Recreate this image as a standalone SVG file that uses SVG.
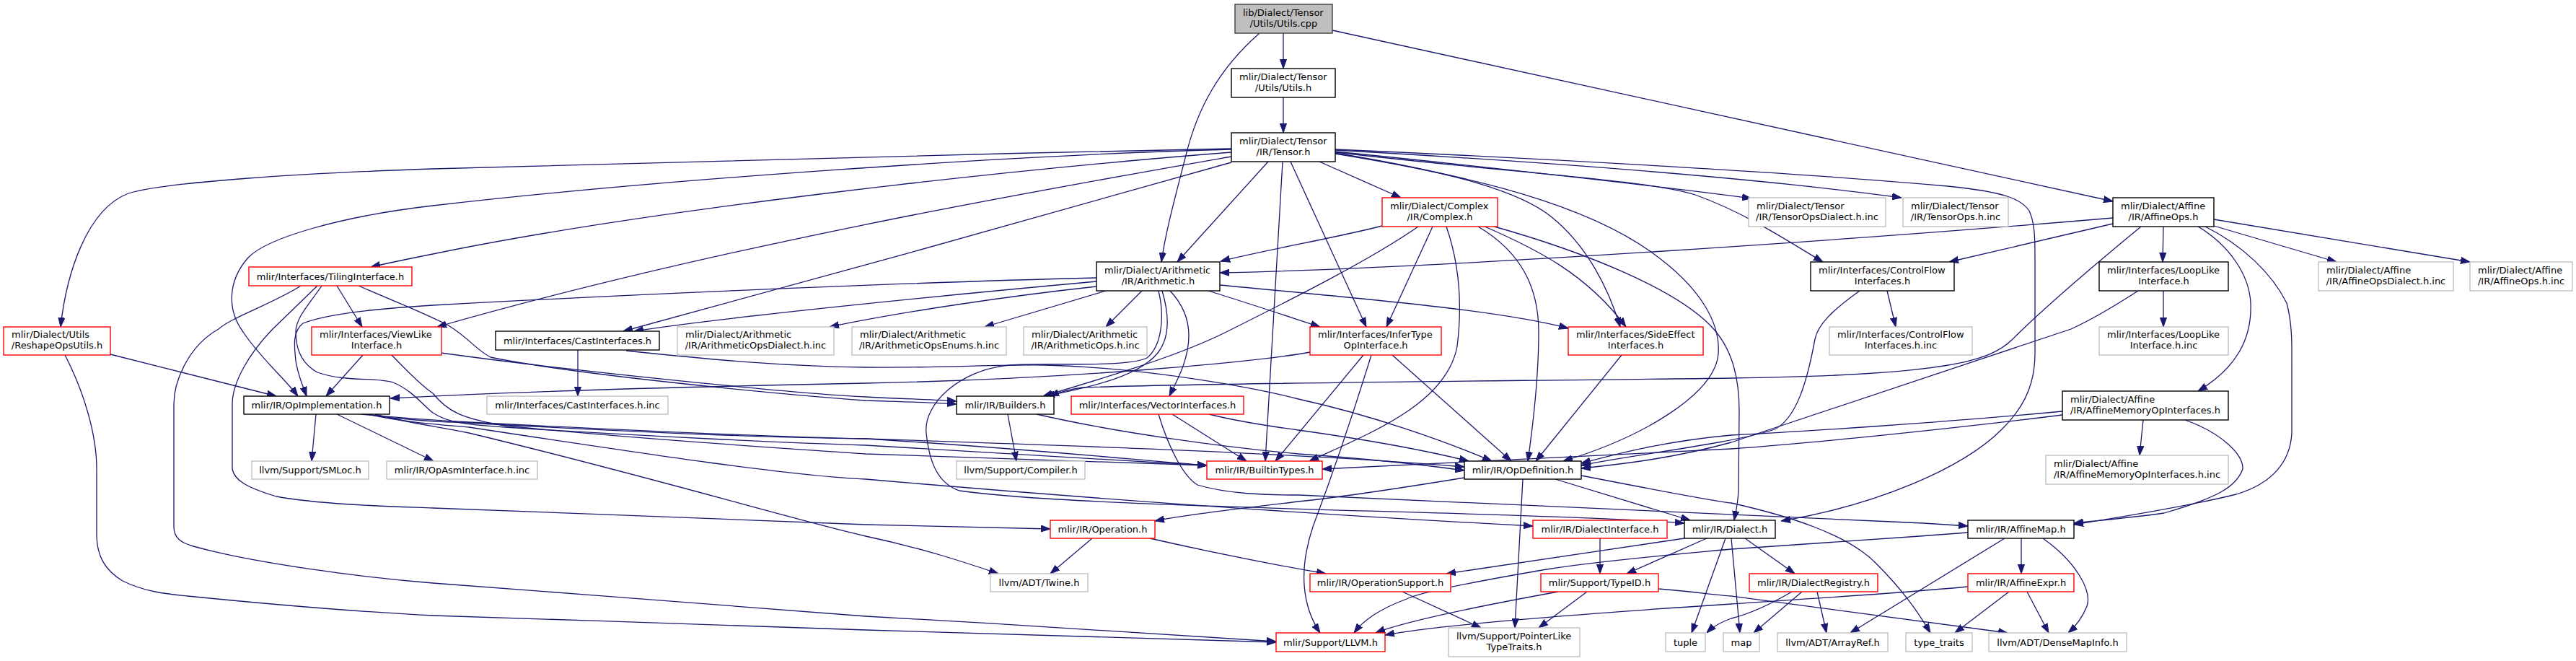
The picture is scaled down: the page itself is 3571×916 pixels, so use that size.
<svg xmlns="http://www.w3.org/2000/svg" width="3571" height="916" viewBox="0 0 3571 916">
<style>
text{font-family:"DejaVu Sans","Liberation Sans",sans-serif;font-size:13px;fill:#000}
.c{text-anchor:middle}
rect{fill:#fff;stroke-width:1.4}
.k{stroke:#000}
.r{stroke:#ff0000}
.g{stroke:#bfbfbf}
.root{fill:#bfbfbf;stroke:#404040}
#edges path{fill:none;stroke:#191970;stroke-width:1.3;marker-end:url(#a)}
</style>
<defs>
<marker id="a" viewBox="0 0 13 10" refX="13" refY="5" markerWidth="13" markerHeight="10" markerUnits="userSpaceOnUse" orient="auto"><path d="M0,0.4 L13,5 L0,9.6 z" fill="#191970" stroke="#191970" stroke-width="1"/></marker>
</defs>
<rect x="0" y="0" width="3571" height="916" style="fill:#fff;stroke:none"/>
<g id="edges">
<path d="M1779,46 L1779,95"/>
<path d="M1746,46 C1690,95 1660,150 1644,215 C1630,270 1616,320 1610,363"/>
<path d="M1847,42 L2929,279"/>
<path d="M1779,135 L1779,184"/>
<path d="M1707,206 C1300,214 800,228 600,234 C420,240 230,252 178,268 C120,290 92,380 84,453"/>
<path d="M1707,207 C1400,215 900,250 600,285 C470,300 370,330 344,357 C315,390 315,430 337,460 C360,495 395,525 413,549"/>
<path d="M1707,211 C1400,235 900,290 600,352 C565,359 540,364 514,370"/>
<path d="M1707,217 C1450,262 1000,340 606,453"/>
<path d="M1707,225 C1500,285 1100,395 864,459"/>
<path d="M1758,224 L1632,363"/>
<path d="M1778,224 L1754,639"/>
<path d="M1789,224 L1894,453"/>
<path d="M1829,224 L1942,274"/>
<path d="M1851,207 C2150,220 2500,240 2700,258 C2780,266 2802,276 2813,292 C2821,310 2821,330 2821,360 L2821,490 C2821,540 2800,570 2775,595 C2720,650 2600,700 2469,722"/>
<path d="M1851,208 C2100,222 2400,242 2636,274"/>
<path d="M1851,210 C2050,230 2300,258 2428,275"/>
<path d="M1851,211 C2100,240 2290,250 2350,270 C2420,295 2480,335 2527,363"/>
<path d="M1851,212 C1990,235 2100,260 2150,300 C2200,340 2230,400 2246,453"/>
<path d="M1851,213 C2050,245 2200,285 2290,350 C2360,400 2385,450 2382,490 C2378,545 2280,605 2167,639"/>
<path d="M1916,313 C1850,330 1760,345 1692,362"/>
<path d="M1966,314 C1900,360 1790,415 1700,460 C1640,490 1560,515 1446,549"/>
<path d="M1986,314 L1922,453"/>
<path d="M2005,314 C2028,380 2025,440 2020,480 C2005,560 1900,600 1815,639"/>
<path d="M2049,314 C2110,350 2133,400 2133,460 C2133,520 2125,590 2118,639"/>
<path d="M2056,313 C2130,345 2200,380 2254,453"/>
<path d="M2068,313 C2200,350 2320,400 2370,450 C2400,480 2411,520 2411,570 L2410,680 C2409,700 2406,710 2404,721"/>
<path d="M1520,385 C1200,393 800,412 600,423 C480,430 440,440 420,448 C405,460 408,480 410,500 C413,520 420,535 425,549"/>
<path d="M1520,390 C1300,410 1000,440 879,459"/>
<path d="M1520,397 C1400,410 1250,432 1150,453"/>
<path d="M1533,403 L1365,453"/>
<path d="M1583,403 L1533,453"/>
<path d="M1611,403 C1622,440 1620,470 1605,489 C1580,520 1520,535 1449,549"/>
<path d="M1622,403 C1638,420 1648,440 1648,465 C1648,500 1630,530 1621,549"/>
<path d="M1675,403 C1730,420 1790,440 1830,453"/>
<path d="M1691,395 C1900,415 2080,430 2174,455"/>
<path d="M1606,403 C1615,440 1610,480 1590,496 C1560,510 1450,502 1400,506 C1330,512 1280,560 1284,600 C1288,640 1300,670 1330,680 C1500,705 2100,708 2335,725"/>
<path d="M1816,488 C1750,500 1500,525 1200,531 C900,537 700,543 541,552"/>
<path d="M1890,492 L1768,639"/>
<path d="M1901,492 C1880,560 1850,650 1820,730 C1800,790 1805,840 1830,877"/>
<path d="M1930,492 L2095,639"/>
<path d="M2248,492 L2129,639"/>
<path d="M2616,403 L2628,453"/>
<path d="M2578,403 C2540,430 2520,450 2516,470 C2505,530 2490,580 2460,595 C2400,615 2250,632 2192,645"/>
<path d="M2999,403 L2999,453"/>
<path d="M2964,403 C2930,425 2895,445 2871,456 L2400,613 C2320,635 2250,643 2192,649"/>
<path d="M2929,302 C2600,330 2000,372 1691,378"/>
<path d="M2929,310 L2702,363"/>
<path d="M2999,314 L2998,363"/>
<path d="M2968,314 C2900,370 2830,430 2790,470 C2760,500 2700,520 2400,524 C2100,528 1700,530 1500,537 C1480,540 1465,545 1455,549"/>
<path d="M3047,314 C3090,340 3118,380 3120,420 C3122,470 3100,510 3047,542"/>
<path d="M3055,313 C3110,340 3150,380 3170,420 C3178,450 3177,480 3177,500 L3177,600 C3175,640 3150,670 3100,685 C3040,700 2950,715 2875,727"/>
<path d="M3069,313 L3239,363"/>
<path d="M3069,304 L3424,363"/>
<path d="M417,396 C380,420 320,440 303,456 C260,480 241,530 241,560 L241,730 C241,745 250,752 268,757 C350,780 500,800 600,808 C800,822 1100,848 1200,854 C1400,865 1650,880 1769,889"/>
<path d="M440,396 L378,456 C345,490 322,530 322,560 L322,650 C325,665 340,675 383,688 C450,700 550,702 600,704 C800,712 1100,722 1200,727 C1300,730 1400,731 1456,733"/>
<path d="M446,396 C430,420 410,440 410,460 C410,485 420,505 440,516 C480,530 520,522 545,530 C570,540 585,560 600,572 C620,585 640,588 700,592 C900,605 1100,614 1200,617 C1400,628 1550,638 1673,645"/>
<path d="M467,396 L502,453"/>
<path d="M497,396 C540,415 580,430 620,450 C650,468 660,485 680,495 C800,520 1100,548 1200,555 C1260,557 1300,558 1326,560"/>
<path d="M153,491 L383,549"/>
<path d="M90,492 C115,540 134,600 134,650 L134,740 C134,770 145,790 170,805 C200,820 230,823 260,826 C400,840 500,848 600,853 C800,860 1100,868 1200,873 C1450,880 1650,886 1769,890"/>
<path d="M503,492 L452,549"/>
<path d="M543,492 C565,515 585,535 600,545 C620,570 640,580 700,590 C900,610 1100,622 1200,629 C1400,636 1550,642 1673,645"/>
<path d="M611,489 C800,515 1100,545 1200,550 C1260,553 1300,554 1326,556"/>
<path d="M801,485 L801,549"/>
<path d="M868,486 C1000,500 1100,508 1200,509 C1300,510 1380,505 1450,506 C1600,510 1750,540 1800,553 C1900,575 2000,610 2068,639"/>
<path d="M438,574 L432,639"/>
<path d="M467,574 L601,639"/>
<path d="M501,574 C560,580 600,582 650,585 C900,598 1100,606 1200,608 C1400,620 1550,635 1673,645"/>
<path d="M505,574 C560,582 600,584 650,586 C900,600 1100,607 1200,608 C1500,618 1800,628 2030,647"/>
<path d="M510,574 C560,585 600,588 650,592 C900,630 1100,660 1200,664 C1500,690 1800,712 2125,729"/>
<path d="M520,574 C560,585 600,590 650,600 C900,660 1100,720 1200,743 C1280,760 1340,780 1384,795"/>
<path d="M1397,574 L1409,639"/>
<path d="M1437,574 C1550,600 1700,620 1800,629 C1900,636 1980,645 2030,652"/>
<path d="M1625,574 L1728,639"/>
<path d="M1676,574 C1720,585 1770,592 1800,596 C1900,610 1980,625 2036,639"/>
<path d="M1606,574 C1620,620 1640,660 1660,672 C1700,684 1750,686 1800,686 C2100,700 2400,715 2600,722 C2650,724 2700,727 2728,729"/>
<path d="M2156,664 L2343,721"/>
<path d="M2111,664 L2100,870"/>
<path d="M2030,662 C1950,675 1850,690 1800,695 C1720,705 1650,712 1601,722"/>
<path d="M2192,659 C2300,680 2380,695 2400,697 C2480,715 2560,740 2600,780 C2640,820 2660,850 2676,877"/>
<path d="M1514,746 L1456,795"/>
<path d="M1594,746 C1700,770 1780,785 1838,795"/>
<path d="M2218,746 L2218,795"/>
<path d="M2335,746 L2005,795"/>
<path d="M2366,746 L2255,795"/>
<path d="M2392,746 L2345,877"/>
<path d="M2400,746 L2412,877"/>
<path d="M2419,746 L2488,795"/>
<path d="M2728,738 C2600,748 2450,757 2400,761 C2300,770 2200,780 2144,789 C2050,805 1970,820 1950,830 C1910,845 1890,860 1877,877"/>
<path d="M2779,746 L2565,877"/>
<path d="M2802,746 L2802,795"/>
<path d="M2832,746 C2880,780 2900,820 2893,840 C2885,860 2875,870 2867,877"/>
<path d="M2728,813 C2600,825 2450,833 2400,837 C2200,850 2000,865 1920,880"/>
<path d="M2785,820 L2710,877"/>
<path d="M2810,820 L2840,877"/>
<path d="M2160,820 C2050,840 1950,860 1907,877"/>
<path d="M2200,820 L2133,870"/>
<path d="M2299,816 C2350,820 2380,825 2400,826 C2550,845 2700,865 2783,877"/>
<path d="M2484,820 C2450,840 2420,852 2400,857 C2385,862 2375,868 2366,877"/>
<path d="M2498,820 L2431,877"/>
<path d="M2519,820 L2532,877"/>
<path d="M1944,820 L2053,870"/>
<path d="M2971,582 L2966,631"/>
<path d="M2859,570 C2700,585 2500,598 2400,603 C2300,612 2230,632 2192,642"/>
<path d="M2859,575 C2700,595 2500,615 2400,622 C2200,632 2000,642 1833,650"/>
<path d="M3029,582 C3080,600 3110,630 3109,650 C3100,675 3073,690 3000,711 C2950,718 2900,722 2875,725"/>
</g>
<g id="n_root"><rect class="root" x="1712" y="6" width="135" height="40"/><text x="1723" y="21.5">lib/Dialect/Tensor</text><text class="c" x="1779.5" y="36.5">/Utils/Utils.cpp</text></g>
<g id="n_utilsh"><rect class="k" x="1707" y="95" width="144" height="40"/><text x="1718" y="110.5">mlir/Dialect/Tensor</text><text class="c" x="1779" y="125.5">/Utils/Utils.h</text></g>
<g id="n_tensorh"><rect class="k" x="1707" y="184" width="144" height="40"/><text x="1718" y="199.5">mlir/Dialect/Tensor</text><text class="c" x="1779" y="214.5">/IR/Tensor.h</text></g>
<g id="n_arith"><rect class="k" x="1520" y="363" width="171" height="40"/><text x="1531" y="378.5">mlir/Dialect/Arithmetic</text><text class="c" x="1605.5" y="393.5">/IR/Arithmetic.h</text></g>
<g id="n_complex"><rect class="r" x="1916" y="274" width="160" height="40"/><text x="1927" y="289.5">mlir/Dialect/Complex</text><text class="c" x="1996" y="304.5">/IR/Complex.h</text></g>
<g id="n_tensoropsdialect"><rect class="g" x="2424" y="274" width="190" height="40"/><text x="2435" y="289.5">mlir/Dialect/Tensor</text><text class="c" x="2519" y="304.5">/IR/TensorOpsDialect.h.inc</text></g>
<g id="n_tensorops"><rect class="g" x="2638" y="274" width="146" height="40"/><text x="2649" y="289.5">mlir/Dialect/Tensor</text><text class="c" x="2711" y="304.5">/IR/TensorOps.h.inc</text></g>
<g id="n_affineops"><rect class="k" x="2929" y="274" width="140" height="40"/><text x="2940" y="289.5">mlir/Dialect/Affine</text><text class="c" x="2999" y="304.5">/IR/AffineOps.h</text></g>
<g id="n_controlflow"><rect class="k" x="2510" y="363" width="199" height="40"/><text x="2521" y="378.5">mlir/Interfaces/ControlFlow</text><text class="c" x="2609.5" y="393.5">Interfaces.h</text></g>
<g id="n_looplike"><rect class="k" x="2910" y="363" width="179" height="40"/><text x="2921" y="378.5">mlir/Interfaces/LoopLike</text><text class="c" x="2999.5" y="393.5">Interface.h</text></g>
<g id="n_affineopsdialectinc"><rect class="g" x="3214" y="363" width="187" height="40"/><text x="3225" y="378.5">mlir/Dialect/Affine</text><text class="c" x="3307.5" y="393.5">/IR/AffineOpsDialect.h.inc</text></g>
<g id="n_affineopsinc"><rect class="g" x="3424" y="363" width="142" height="40"/><text x="3435" y="378.5">mlir/Dialect/Affine</text><text class="c" x="3495" y="393.5">/IR/AffineOps.h.inc</text></g>
<g id="n_tiling"><rect class="r" x="345" y="370" width="226" height="26"/><text class="c" x="458" y="387.5">mlir/Interfaces/TilingInterface.h</text></g>
<g id="n_reshape"><rect class="r" x="5" y="453" width="148" height="39"/><text x="16" y="468">mlir/Dialect/Utils</text><text class="c" x="79" y="483">/ReshapeOpsUtils.h</text></g>
<g id="n_viewlike"><rect class="r" x="432" y="453" width="180" height="39"/><text x="443" y="468">mlir/Interfaces/ViewLike</text><text class="c" x="522" y="483">Interface.h</text></g>
<g id="n_cast"><rect class="k" x="687" y="459" width="227" height="26"/><text class="c" x="800.5" y="476.5">mlir/Interfaces/CastInterfaces.h</text></g>
<g id="n_arithdialectinc"><rect class="g" x="939" y="453" width="217" height="39"/><text x="950" y="468">mlir/Dialect/Arithmetic</text><text class="c" x="1047.5" y="483">/IR/ArithmeticOpsDialect.h.inc</text></g>
<g id="n_arithenumsinc"><rect class="g" x="1181" y="453" width="214" height="39"/><text x="1192" y="468">mlir/Dialect/Arithmetic</text><text class="c" x="1288" y="483">/IR/ArithmeticOpsEnums.h.inc</text></g>
<g id="n_arithopsinc"><rect class="g" x="1419" y="453" width="171" height="39"/><text x="1430" y="468">mlir/Dialect/Arithmetic</text><text class="c" x="1504.5" y="483">/IR/ArithmeticOps.h.inc</text></g>
<g id="n_infertype"><rect class="r" x="1816" y="453" width="182" height="39"/><text x="1827" y="468">mlir/Interfaces/InferType</text><text class="c" x="1907" y="483">OpInterface.h</text></g>
<g id="n_sideeffect"><rect class="r" x="2174" y="453" width="187" height="39"/><text x="2185" y="468">mlir/Interfaces/SideEffect</text><text class="c" x="2267.5" y="483">Interfaces.h</text></g>
<g id="n_cfinc"><rect class="g" x="2536" y="453" width="198" height="39"/><text x="2547" y="468">mlir/Interfaces/ControlFlow</text><text class="c" x="2635" y="483">Interfaces.h.inc</text></g>
<g id="n_looplikeinc"><rect class="g" x="2910" y="453" width="179" height="39"/><text x="2921" y="468">mlir/Interfaces/LoopLike</text><text class="c" x="2999.5" y="483">Interface.h.inc</text></g>
<g id="n_opimpl"><rect class="k" x="338" y="549" width="202" height="25"/><text class="c" x="439" y="566">mlir/IR/OpImplementation.h</text></g>
<g id="n_castinc"><rect class="g" x="675" y="549" width="251" height="25"/><text class="c" x="800.5" y="566">mlir/Interfaces/CastInterfaces.h.inc</text></g>
<g id="n_builders"><rect class="k" x="1326" y="549" width="135" height="25"/><text class="c" x="1393.5" y="566">mlir/IR/Builders.h</text></g>
<g id="n_vector"><rect class="r" x="1485" y="549" width="239" height="25"/><text class="c" x="1604.5" y="566">mlir/Interfaces/VectorInterfaces.h</text></g>
<g id="n_affinememop"><rect class="k" x="2859" y="542" width="230" height="40"/><text x="2870" y="557.5">mlir/Dialect/Affine</text><text class="c" x="2974" y="572.5">/IR/AffineMemoryOpInterfaces.h</text></g>
<g id="n_smloc"><rect class="g" x="349" y="639" width="162" height="25"/><text class="c" x="430" y="656">llvm/Support/SMLoc.h</text></g>
<g id="n_opasminc"><rect class="g" x="536" y="639" width="209" height="25"/><text class="c" x="640.5" y="656">mlir/IR/OpAsmInterface.h.inc</text></g>
<g id="n_compiler"><rect class="g" x="1326" y="639" width="178" height="25"/><text class="c" x="1415" y="656">llvm/Support/Compiler.h</text></g>
<g id="n_builtintypes"><rect class="r" x="1673" y="639" width="160" height="25"/><text class="c" x="1753" y="656">mlir/IR/BuiltinTypes.h</text></g>
<g id="n_opdef"><rect class="k" x="2030" y="639" width="162" height="25"/><text class="c" x="2111" y="656">mlir/IR/OpDefinition.h</text></g>
<g id="n_affinememopinc"><rect class="g" x="2836" y="631" width="253" height="40"/><text x="2847" y="646.5">mlir/Dialect/Affine</text><text class="c" x="2962.5" y="661.5">/IR/AffineMemoryOpInterfaces.h.inc</text></g>
<g id="n_operation"><rect class="r" x="1456" y="721" width="145" height="25"/><text class="c" x="1528.5" y="738">mlir/IR/Operation.h</text></g>
<g id="n_dialectiface"><rect class="r" x="2125" y="721" width="186" height="25"/><text class="c" x="2218" y="738">mlir/IR/DialectInterface.h</text></g>
<g id="n_dialect"><rect class="k" x="2335" y="721" width="126" height="25"/><text class="c" x="2398" y="738">mlir/IR/Dialect.h</text></g>
<g id="n_affinemap"><rect class="k" x="2728" y="721" width="147" height="25"/><text class="c" x="2801.5" y="738">mlir/IR/AffineMap.h</text></g>
<g id="n_twine"><rect class="g" x="1373" y="795" width="135" height="25"/><text class="c" x="1440.5" y="812">llvm/ADT/Twine.h</text></g>
<g id="n_opsupport"><rect class="r" x="1816" y="795" width="195" height="25"/><text class="c" x="1913.5" y="812">mlir/IR/OperationSupport.h</text></g>
<g id="n_typeid"><rect class="r" x="2136" y="795" width="163" height="25"/><text class="c" x="2217.5" y="812">mlir/Support/TypeID.h</text></g>
<g id="n_dialectreg"><rect class="r" x="2425" y="795" width="178" height="25"/><text class="c" x="2514" y="812">mlir/IR/DialectRegistry.h</text></g>
<g id="n_affineexpr"><rect class="r" x="2728" y="795" width="147" height="25"/><text class="c" x="2801.5" y="812">mlir/IR/AffineExpr.h</text></g>
<g id="n_llvm"><rect class="r" x="1769" y="877" width="151" height="26"/><text class="c" x="1844.5" y="894.5">mlir/Support/LLVM.h</text></g>
<g id="n_ptrlike"><rect class="g" x="2008" y="870" width="182" height="40"/><text x="2019" y="885.5">llvm/Support/PointerLike</text><text class="c" x="2099" y="900.5">TypeTraits.h</text></g>
<g id="n_tuple"><rect class="g" x="2309" y="877" width="55" height="26"/><text class="c" x="2336.5" y="894.5">tuple</text></g>
<g id="n_map"><rect class="g" x="2389" y="877" width="50" height="26"/><text class="c" x="2414" y="894.5">map</text></g>
<g id="n_arrayref"><rect class="g" x="2464" y="877" width="153" height="26"/><text class="c" x="2540.5" y="894.5">llvm/ADT/ArrayRef.h</text></g>
<g id="n_typetraits"><rect class="g" x="2642" y="877" width="92" height="26"/><text class="c" x="2688" y="894.5">type_traits</text></g>
<g id="n_densemap"><rect class="g" x="2757" y="877" width="191" height="26"/><text class="c" x="2852.5" y="894.5">llvm/ADT/DenseMapInfo.h</text></g>
</svg>
